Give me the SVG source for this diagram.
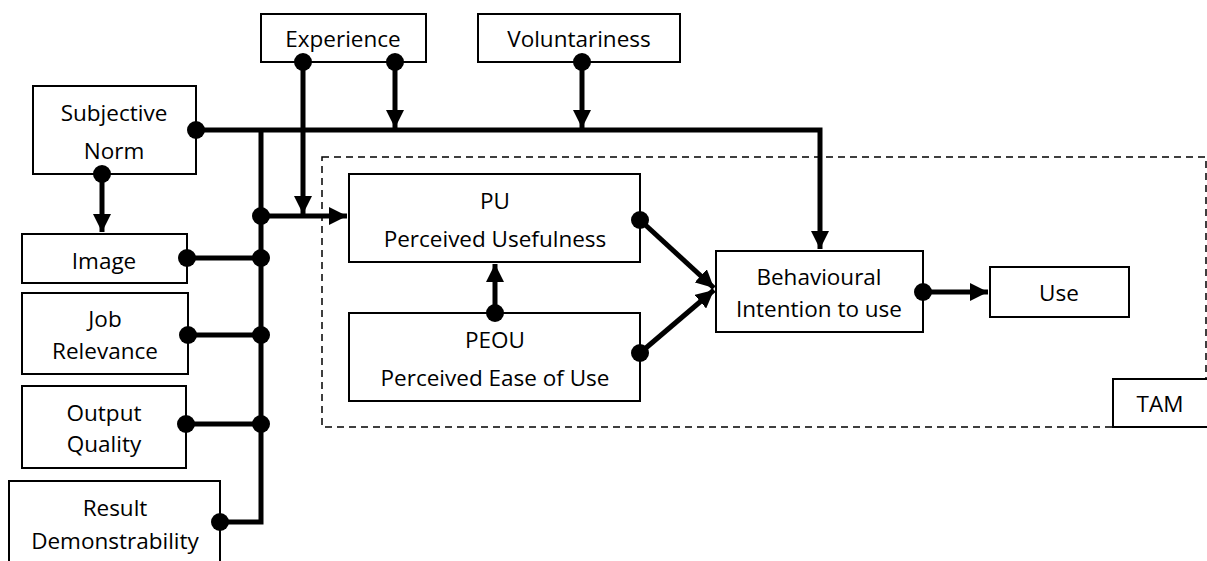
<svg xmlns="http://www.w3.org/2000/svg" width="1207" height="561" viewBox="0 0 1207 561">
  <defs>
    <style>
      .box { fill: #ffffff; stroke: #000000; stroke-width: 2; }
      .lbl { font-family: "Open Sans", "Liberation Sans", sans-serif; font-size: 22.5px; fill: #000000; text-anchor: middle; dominant-baseline: central; }
      .wire { fill: none; stroke: #000000; stroke-width: 5; stroke-linejoin: miter; }
      .dot { fill: #000000; }
      .frame { fill: none; stroke: #000000; stroke-width: 1.5; stroke-dasharray: 7 5; }
    </style>
    <marker id="arrow" viewBox="0 0 10 10" refX="10" refY="5" markerWidth="3.6" markerHeight="3.6" orient="auto" markerUnits="strokeWidth">
      <path d="M0,0 L10,5 L0,10 Z" fill="#000000"/>
    </marker>
  </defs>

  <rect width="1207" height="561" fill="#ffffff"/>

  <!-- TAM boundary -->
  <rect class="frame" x="322" y="157" width="884" height="270"/>

  <g id="node-tam">
    <rect class="box" x="1113" y="379" width="96" height="48"/>
    <text class="lbl" x="1160" y="403">TAM</text>
  </g>

  <g id="node-experience">
    <rect class="box" x="261" y="14" width="165" height="48"/>
    <text class="lbl" x="343" y="38">Experience</text>
  </g>

  <g id="node-voluntariness">
    <rect class="box" x="478" y="14" width="202" height="48"/>
    <text class="lbl" x="579" y="38">Voluntariness</text>
  </g>

  <g id="node-subjective-norm">
    <rect class="box" x="33" y="86" width="163" height="88"/>
    <text class="lbl" x="114" y="112">Subjective</text>
    <text class="lbl" x="114" y="150">Norm</text>
  </g>

  <g id="node-image">
    <rect class="box" x="22" y="234" width="165" height="49"/>
    <text class="lbl" x="104" y="260">Image</text>
  </g>

  <g id="node-job-relevance">
    <rect class="box" x="22" y="293" width="166" height="81"/>
    <text class="lbl" x="105" y="318">Job</text>
    <text class="lbl" x="105" y="350">Relevance</text>
  </g>

  <g id="node-output-quality">
    <rect class="box" x="22" y="386" width="164" height="82"/>
    <text class="lbl" x="104" y="412">Output</text>
    <text class="lbl" x="104" y="443">Quality</text>
  </g>

  <g id="node-result-demonstrability">
    <rect class="box" x="9" y="481" width="211" height="90"/>
    <text class="lbl" x="115" y="507">Result</text>
    <text class="lbl" x="115" y="540">Demonstrability</text>
  </g>

  <g id="node-pu">
    <rect class="box" x="349" y="174" width="291" height="88"/>
    <text class="lbl" x="495" y="200">PU</text>
    <text class="lbl" x="495" y="238">Perceived Usefulness</text>
  </g>

  <g id="node-peou">
    <rect class="box" x="349" y="313" width="291" height="88"/>
    <text class="lbl" x="495" y="339">PEOU</text>
    <text class="lbl" x="495" y="377">Perceived Ease of Use</text>
  </g>

  <g id="node-bi">
    <rect class="box" x="716" y="251" width="207" height="81"/>
    <text class="lbl" x="819" y="276">Behavioural</text>
    <text class="lbl" x="819" y="308">Intention to use</text>
  </g>

  <g id="node-use">
    <rect class="box" x="990" y="267" width="139" height="50"/>
    <text class="lbl" x="1059" y="292">Use</text>
  </g>

  <g id="connectors">
    <!-- subjective norm trunk to behavioural intention -->
    <path class="wire" d="M196,130 L820,130 L820,249" marker-end="url(#arrow)"/>
    <!-- external variable bus -->
    <path class="wire" d="M261,130 L261,522 L220,522"/>
    <path class="wire" d="M187,258 L261,258"/>
    <path class="wire" d="M188,335 L261,335"/>
    <path class="wire" d="M186,424 L261,424"/>
    <path class="wire" d="M261,216 L347,216" marker-end="url(#arrow)"/>
    <!-- subjective norm to image -->
    <path class="wire" d="M102,174 L102,232" marker-end="url(#arrow)"/>
    <!-- experience moderators -->
    <path class="wire" d="M303,62 L303,214" marker-end="url(#arrow)"/>
    <path class="wire" d="M395,62 L395,128" marker-end="url(#arrow)"/>
    <!-- voluntariness moderator -->
    <path class="wire" d="M582,62 L582,128" marker-end="url(#arrow)"/>
    <!-- TAM core -->
    <path class="wire" d="M495,313 L495,264" marker-end="url(#arrow)"/>
    <path class="wire" d="M640,220 L714,288" marker-end="url(#arrow)"/>
    <path class="wire" d="M640,353 L714,290" marker-end="url(#arrow)"/>
    <path class="wire" d="M923,292 L988,292" marker-end="url(#arrow)"/>

    <!-- connection dots -->
    <circle class="dot" cx="196" cy="130" r="9"/>
    <circle class="dot" cx="102" cy="174" r="9"/>
    <circle class="dot" cx="303" cy="62" r="9"/>
    <circle class="dot" cx="395" cy="62" r="9"/>
    <circle class="dot" cx="582" cy="62" r="9"/>
    <circle class="dot" cx="261" cy="216" r="9"/>
    <circle class="dot" cx="187" cy="258" r="9"/>
    <circle class="dot" cx="261" cy="258" r="9"/>
    <circle class="dot" cx="188" cy="335" r="9"/>
    <circle class="dot" cx="261" cy="335" r="9"/>
    <circle class="dot" cx="186" cy="424" r="9"/>
    <circle class="dot" cx="261" cy="424" r="9"/>
    <circle class="dot" cx="220" cy="522" r="9"/>
    <circle class="dot" cx="495" cy="313" r="9"/>
    <circle class="dot" cx="640" cy="220" r="9"/>
    <circle class="dot" cx="640" cy="353" r="9"/>
    <circle class="dot" cx="923" cy="292" r="9"/>
  </g>
</svg>
